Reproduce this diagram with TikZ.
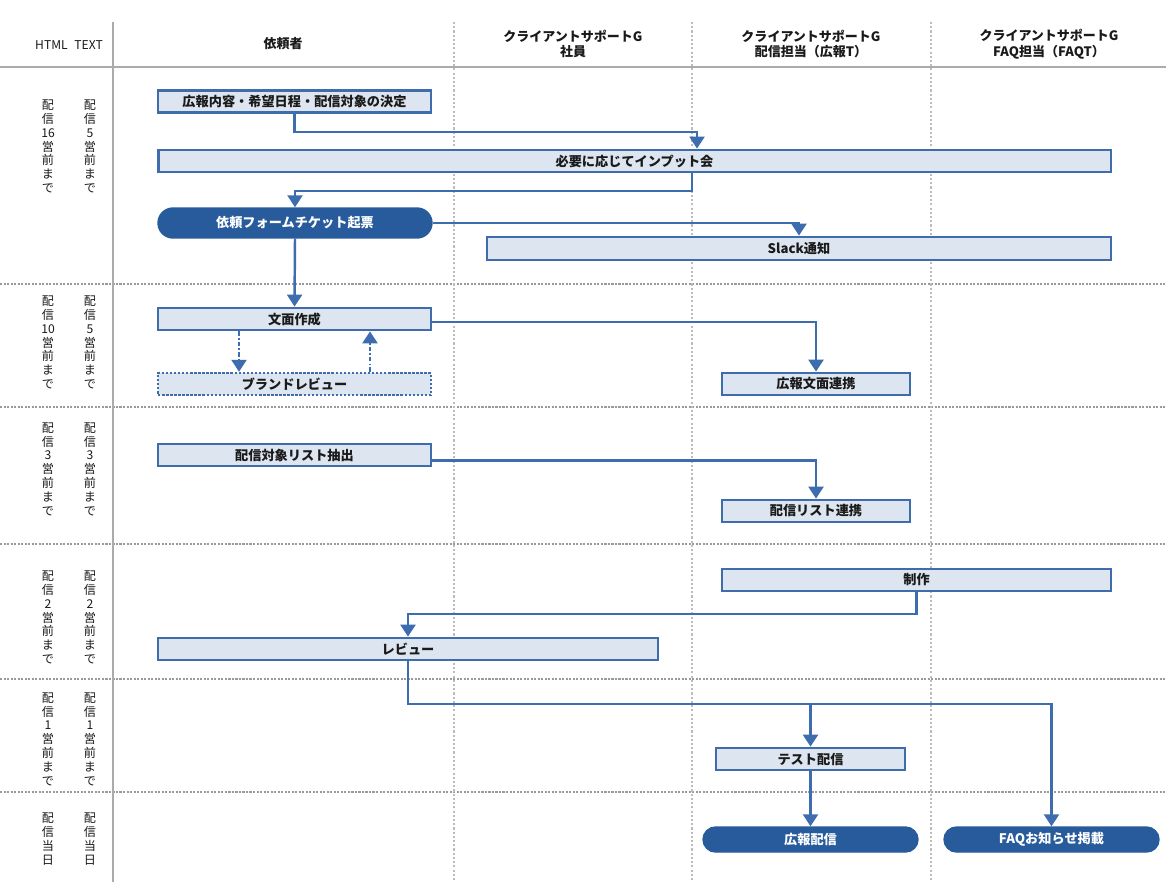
\documentclass[tikz,border=0pt]{standalone}
\usepackage{fontspec}
\setmainfont{Noto Sans CJK JP}
\usetikzlibrary{arrows.meta,calc,shapes.misc}
\definecolor{bordblue}{HTML}{3F6DAB}
\definecolor{fillblue}{HTML}{DCE5F0}
\definecolor{pillblue}{HTML}{275B9B}
\definecolor{lineblue}{HTML}{3D6DAE}
\definecolor{gridgray}{HTML}{ABABAB}
\definecolor{dotgray}{HTML}{9A9A9A}
\definecolor{txt}{HTML}{1A1A1A}
\begin{document}
\begin{tikzpicture}[x=0.02cm,y=-0.02cm,
  box/.style={draw=bordblue, fill=fillblue, line width=1.6pt, font=\bfseries\fontsize{7.5}{8}\selectfont, text=txt, inner sep=0pt, minimum height=0.44cm},
  dotbox/.style={box, line width=1.4pt, dash pattern=on 1.4pt off 0.9pt},
  pill/.style={rounded rectangle, fill=pillblue, draw=pillblue, line width=0.8pt, text=white, font=\bfseries\fontsize{7.5}{8}\selectfont, inner sep=0pt},
  arr/.style={draw=lineblue, line width=1.4pt, -{Triangle[width=0.3cm,length=0.24cm]}},
  darr/.style={arr, dash pattern=on 2.5pt off 1.2pt on 1pt off 1.2pt},
  lbl/.style={align=center, font=\fontsize{6.9}{7.86}\selectfont, text=txt, inner sep=0pt},
  hdr/.style={align=center, font=\bfseries\fontsize{7.4}{9}\selectfont, text=txt, inner sep=0pt},
  gridsolid/.style={draw=gridgray, line width=1.2pt},
  griddash/.style={draw=gridgray!80, line width=0.6pt, dash pattern=on 1.2pt off 1.2pt},
  griddot/.style={draw=dotgray, line width=0.9pt, dash pattern=on 1.2pt off 0.8pt}
]
\useasboundingbox (0,0) rectangle (1166,882);
\fill[white] (0,0) rectangle (1166,882);

% grid
\foreach \y in {284,407,544,679,792} \draw[griddot] (0,\y) -- (1166,\y);
\foreach \x in {454,692,931} \draw[griddash] (\x,22) -- (\x,882);
\draw[gridsolid] (113,22) -- (113,882);
\draw[gridsolid] (0,67) -- (1166,67);

% header
\node[inner sep=0pt, font=\fontsize{6.9}{8}\selectfont, text=txt] (hh) at (69,45) {HTML\hspace{0.55em}TEXT};
\node[hdr] (hc1) at (283,44) {依頼者};
\node[hdr] (hc2) at (573,44) {クライアントサポートG\\社員};
\node[hdr] (hc3) at (811,44) {クライアントサポートG\\配信担当（広報T）};
\node[hdr] (hc4) at (1049,44) {クライアントサポートG\\FAQ担当（FAQT）};

% left labels
\node[lbl] (l1a) at (48,146.5) {配\\信\\16\\営\\前\\ま\\で};
\node[lbl] (l1b) at (90,146.5) {配\\信\\5\\営\\前\\ま\\で};
\node[lbl] (l2a) at (48,342.5) {配\\信\\10\\営\\前\\ま\\で};
\node[lbl] (l2b) at (90,342.5) {配\\信\\5\\営\\前\\ま\\で};
\node[lbl] (l3a) at (48,469) {配\\信\\3\\営\\前\\ま\\で};
\node[lbl] (l3b) at (90,469) {配\\信\\3\\営\\前\\ま\\で};
\node[lbl] (l4a) at (48,617.5) {配\\信\\2\\営\\前\\ま\\で};
\node[lbl] (l4b) at (90,617.5) {配\\信\\2\\営\\前\\ま\\で};
\node[lbl] (l5a) at (48,739) {配\\信\\1\\営\\前\\ま\\で};
\node[lbl] (l5b) at (90,739) {配\\信\\1\\営\\前\\ま\\で};
\node[lbl] (l6a) at (48,839) {配\\信\\当\\日};
\node[lbl] (l6b) at (90,839) {配\\信\\当\\日};

% coordinates for bends
\coordinate (a1) at (697,132);
\coordinate (a2) at (692,191);
\coordinate (e1) at (239,0);
\coordinate (e2) at (370,0);
\coordinate (h1) at (0,614);
\coordinate (i1) at (0,704);

% boxes
\node[box, minimum width=5.46cm] (b1) at (294.5,101.5) {広報内容・希望日程・配信対象の決定};
\node[box, minimum width=19.06cm] (b2) at (634.5,161) {必要に応じてインプット会};
\node[pill, minimum width=5.48cm, minimum height=0.6cm] (b3) at (295,223) {依頼フォームチケット起票};
\node[box, minimum width=12.48cm, minimum height=0.46cm] (b4) at (799,248.5) {Slack通知};
\node[box, minimum width=5.46cm] (b5) at (294.5,319) {文面作成};
\node[dotbox, minimum width=5.46cm] (b6) at (294.5,384) {ブランドレビュー};
\node[box, minimum width=3.76cm] (b7) at (816,384) {広報文面連携};
\node[box, minimum width=5.46cm] (b8) at (294.5,455) {配信対象リスト抽出};
\node[box, minimum width=3.76cm] (b9) at (816,511) {配信リスト連携};
\node[box, minimum width=7.78cm] (b10) at (916.5,580) {制作};
\node[box, minimum width=10cm] (b11) at (408,649) {レビュー};
\node[box, minimum width=3.78cm] (b12) at (810.5,759) {テスト配信};
\node[pill, minimum width=4.3cm, minimum height=0.5cm] (b13) at (810.5,839.5) {広報配信};
\node[pill, minimum width=4.3cm, minimum height=0.5cm] (b14) at (1051.5,839.5) {FAQお知らせ掲載};

% connectors
\draw[arr] (b1.south) |- (a1) -- (a1 |- b2.north);
\draw[arr] (a2 |- b2.south) -- (a2) -| (b3.north);
\draw[arr] (b3.east) -| (b4.north);
\draw[arr] (b3.south) -- (b5.north);
\draw[darr] (b5.south -| e1) -- (b6.north -| e1);
\draw[darr] (b6.north -| e2) -- (b5.south -| e2);
\draw[arr] ([yshift=-0.06cm]b5.east) -| (b7.north);
\draw[arr] ([yshift=-0.11cm]b8.east) -| (b9.north);
\draw[arr] (b10.south) -- (b10.south |- h1) -| (b11.north);
\draw[arr] (b11.south) -- (b11.south |- i1) -| (b14.north);
\draw[arr] (b12.north |- i1) -- (b12.north);
\draw[arr] (b12.south) -- (b13.north);
\end{tikzpicture}
\end{document}
